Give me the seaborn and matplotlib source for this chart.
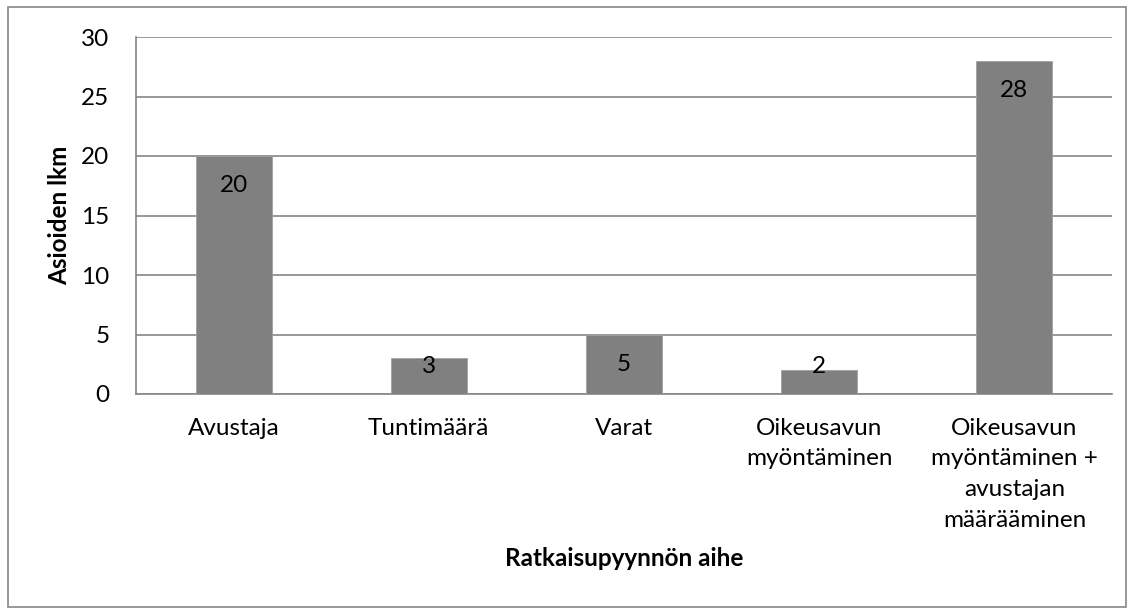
import matplotlib
matplotlib.use("Agg")
import matplotlib.pyplot as plt
import seaborn as sns
import pandas as pd
from matplotlib.patches import Rectangle

# Data
categories = ["Avustaja", "Tuntimäärä", "Varat", "Oikeusavun\nmyöntäminen",
              "Oikeusavun\nmyöntäminen +\navustajan\nmäärääminen"]
counts = [20, 3, 5, 2, 28]

df = pd.DataFrame({"aihe": categories, "lkm": counts})

sns.set_style("white")
plt.rcParams["font.family"] = ["Lato", "DejaVu Sans"]
plt.rcParams["text.color"] = "black"
plt.rcParams["axes.labelcolor"] = "black"
plt.rcParams["xtick.labelcolor"] = "black"
plt.rcParams["ytick.labelcolor"] = "black"

FS = 17.5

fig = plt.figure(figsize=(11.34, 6.12), dpi=100)
ax = fig.add_axes([136 / 1134, 1 - 394 / 612, (1112 - 136) / 1134, (394 - 37) / 612])

sns.barplot(data=df, x="aihe", y="lkm", color="#808080", width=0.39,
            saturation=1, edgecolor="#a0a0a0", linewidth=0.6, ax=ax, zorder=3)

ax.set_ylim(0, 30)
ax.set_yticks(range(0, 31, 5))
ax.yaxis.grid(True, color="#868686", linewidth=1.2, zorder=0)
for s in ["top", "right"]:
    ax.spines[s].set_visible(False)
for s in ["left", "bottom"]:
    ax.spines[s].set_color("#868686")
    ax.spines[s].set_linewidth(1.2)
ax.tick_params(axis="y", length=8, color="#868686", width=1.2, labelsize=FS, pad=11)
ax.tick_params(axis="x", length=0, labelsize=FS, pad=17)
for lbl in ax.get_xticklabels():
    lbl.set_linespacing(1.57)

# value labels inside the bar top (kept above the baseline for short bars)
for i, v in enumerate(counts):
    ax.text(i, max(v - 2.5, 2.35), str(v), ha="center", va="center",
            fontsize=FS, zorder=4)

ax.set_xlabel("Ratkaisupyynnön aihe", fontsize=FS, fontweight="bold", labelpad=12)
ax.set_ylabel("Asioiden lkm", fontsize=FS, fontweight="bold", labelpad=7)

# Outer chart border
fig.patches.append(Rectangle((8 / 1134, 5 / 612), 1118 / 1134, 600 / 612,
                             transform=fig.transFigure, fill=False,
                             edgecolor="#868686", linewidth=1.2))

fig.savefig("out.png", dpi=100)
